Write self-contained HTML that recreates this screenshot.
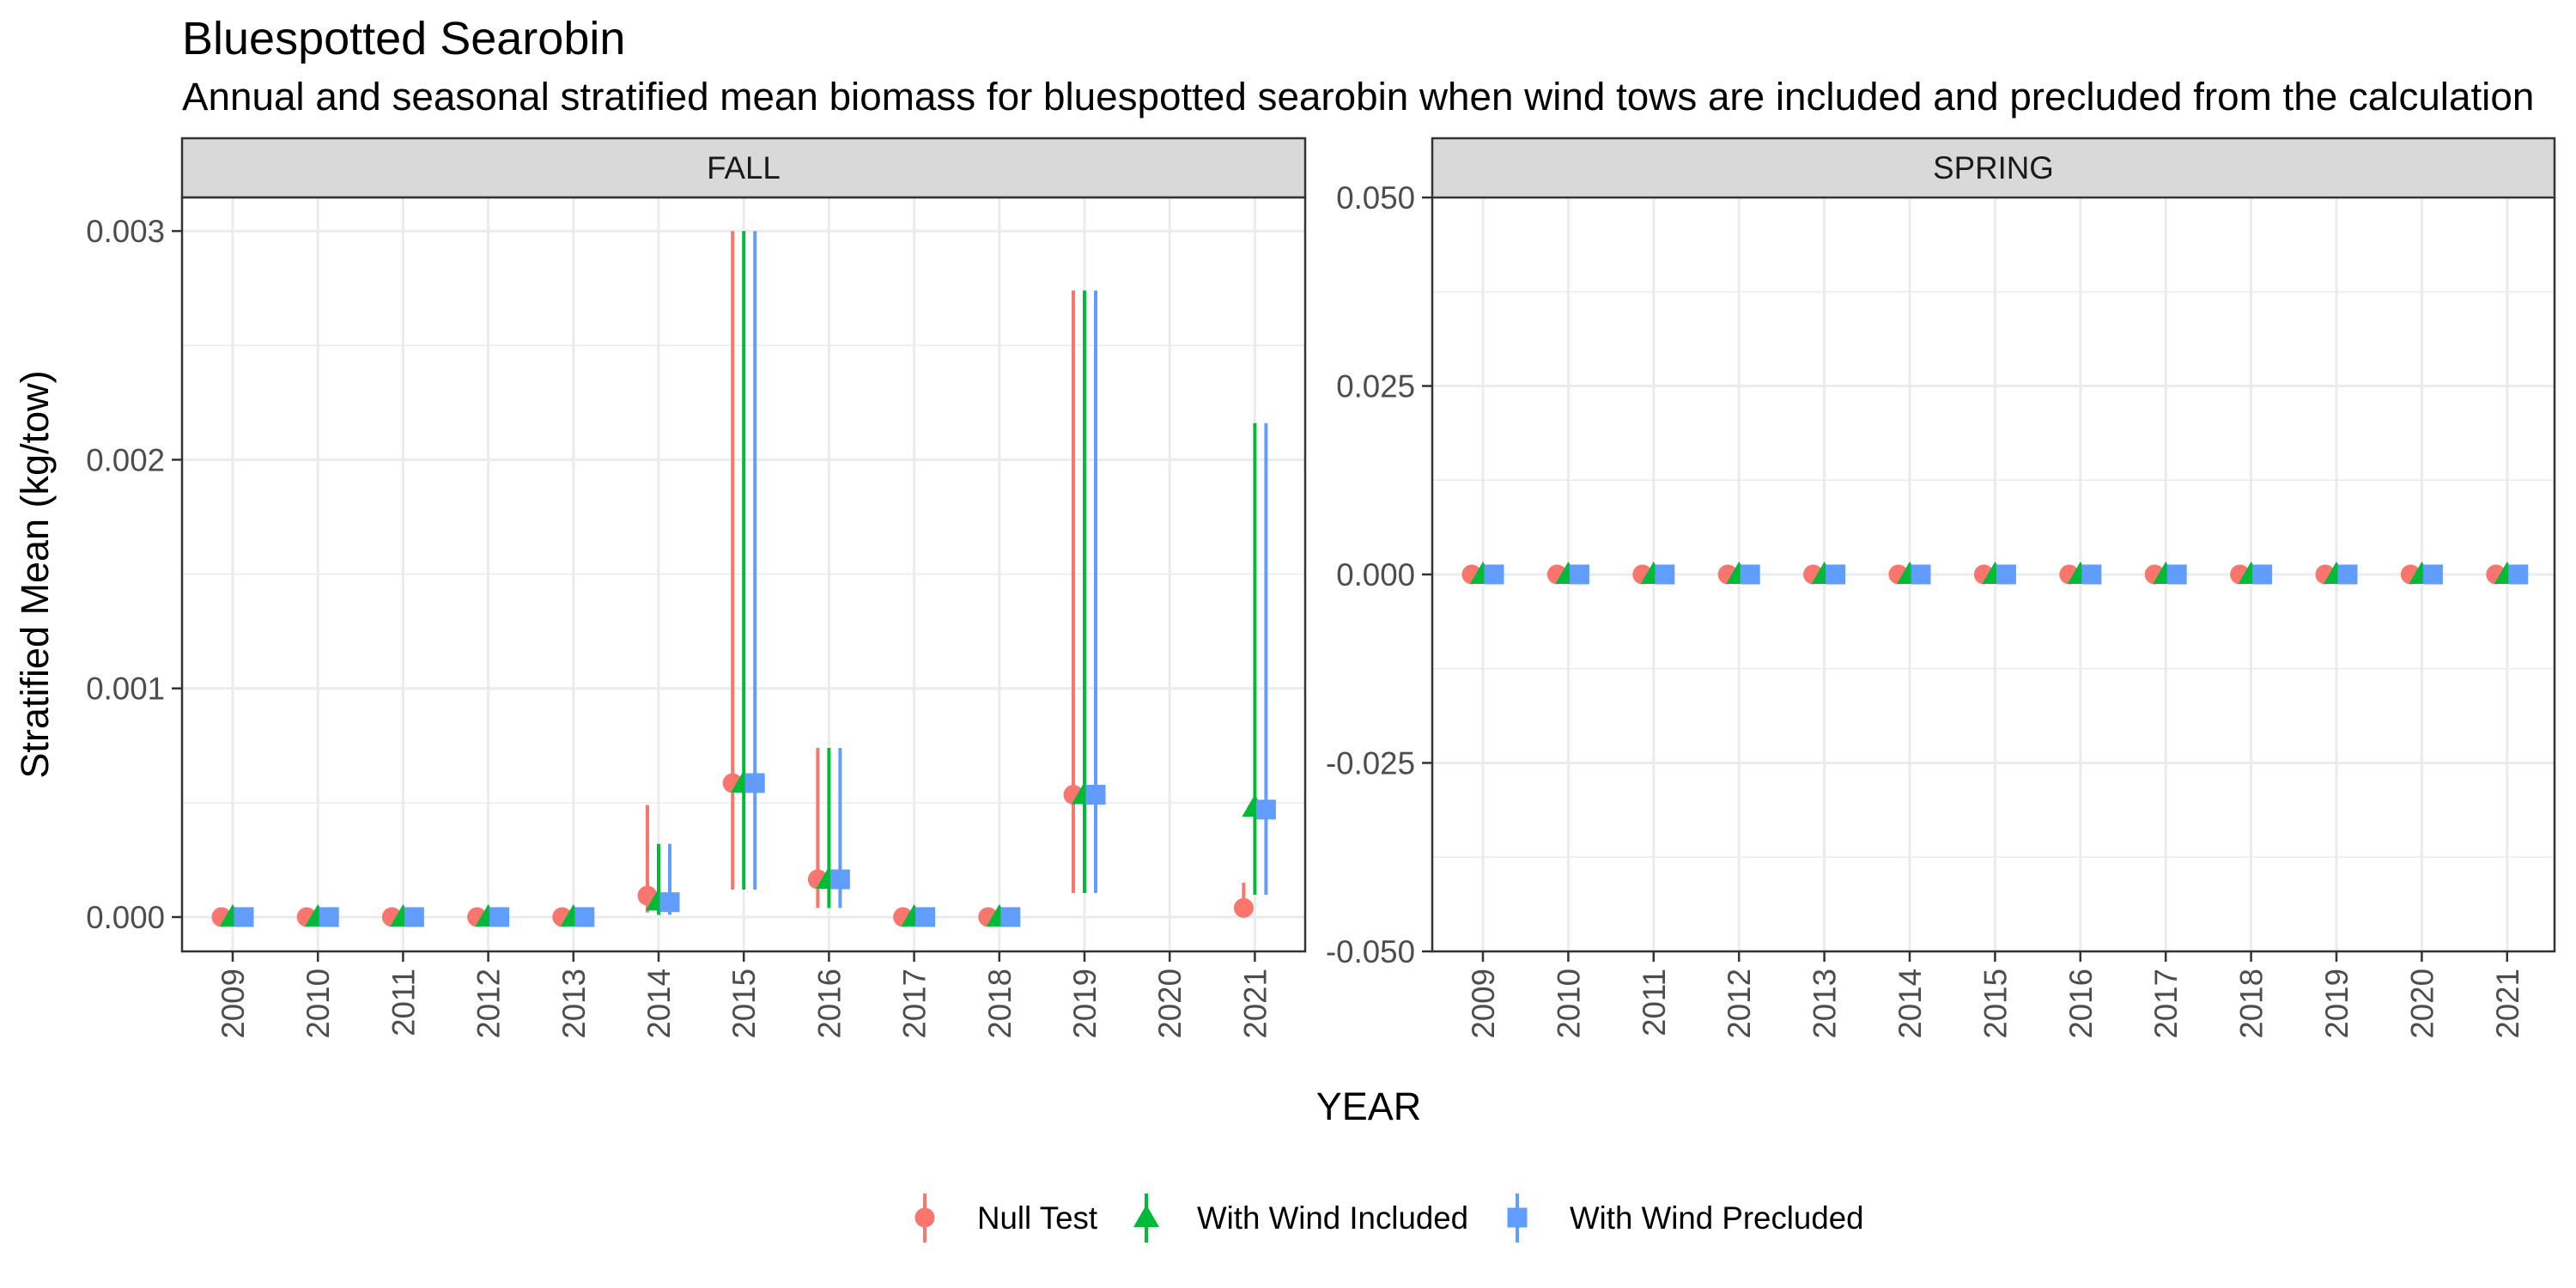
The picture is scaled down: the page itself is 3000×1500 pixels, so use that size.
<!DOCTYPE html>
<html><head><meta charset="utf-8">
<style>
html,body{margin:0;padding:0;background:#fff;}
svg{display:block;font-family:"Liberation Sans",Arial,sans-serif;}
</style></head>
<body>
<svg id="chart" width="3000" height="1500" viewBox="0 0 3000 1500" xmlns="http://www.w3.org/2000/svg">
<text x="212" y="63" font-size="54" fill="#000">Bluespotted Searobin</text>
<text x="212" y="128" font-size="45.8" fill="#000">Annual and seasonal stratified mean biomass for bluespotted searobin when wind tows are included and precluded from the calculation</text>
<text transform="translate(56,669) rotate(-90)" text-anchor="middle" font-size="45" fill="#000">Stratified Mean (kg/tow)</text>
<text x="1594" y="1304" text-anchor="middle" font-size="45" fill="#000">YEAR</text>
<g id="panels"></g>
<g id="legend"></g>
</svg>
<script>
const years = [2009,2010,2011,2012,2013,2014,2015,2016,2017,2018,2019,2020,2021];
const seriesNames = ["Null Test","With Wind Included","With Wind Precluded"];
// FALL
const fallYears = [2009,2010,2011,2012,2013,2014,2015,2016,2017,2018,2019,2021];
const fallNullMean = [0,0,0,0,0,0.000094,0.000586,0.000165,0,0,0.000535,0.00004];
const fallNullLo =   [0,0,0,0,0,0.00002,0.00012,0.00004,0,0,0.000105,0.00004];
const fallNullHi =   [0,0,0,0,0,0.00049,0.003,0.00074,0,0,0.00274,0.00015];
const fallInclMean = [0,0,0,0,0,0.00007,0.000586,0.000165,0,0,0.000535,0.00048];
const fallInclLo =   [0,0,0,0,0,0.00001,0.00012,0.00004,0,0,0.000105,0.0000976];
const fallInclHi =   [0,0,0,0,0,0.00032,0.003,0.00074,0,0,0.00274,0.00216];
const fallPrecMean = [0,0,0,0,0,0.000065,0.000586,0.000165,0,0,0.000535,0.00047];
const fallPrecLo =   [0,0,0,0,0,0.00001,0.00012,0.00004,0,0,0.000105,0.0000976];
const fallPrecHi =   [0,0,0,0,0,0.00032,0.003,0.00074,0,0,0.00274,0.00216];
// SPRING
const springYears = [2009,2010,2011,2012,2013,2014,2015,2016,2017,2018,2019,2020,2021];
const springNullMean = [0,0,0,0,0,0,0,0,0,0,0,0,0];
const springInclMean = [0,0,0,0,0,0,0,0,0,0,0,0,0];
const springPrecMean = [0,0,0,0,0,0,0,0,0,0,0,0,0];
const fallTicks = [0,0.001,0.002,0.003];
const fallTickLabels = ["0.000","0.001","0.002","0.003"];
const fallMinor = [0.0005,0.0015,0.0025];
const springTicks = [-0.05,-0.025,0,0.025,0.05];
const springTickLabels = ["-0.050","-0.025","0.000","0.025","0.050"];
const springMinor = [-0.0375,-0.0125,0.0125,0.0375];

const NS="http://www.w3.org/2000/svg";
const colors=["#F8766D","#00BA38","#619CFF"];
const dodge=[-13,0,13];
function mk(tag,attrs,parent){const e=document.createElementNS(NS,tag);for(const k in attrs)e.setAttribute(k,attrs[k]);parent.appendChild(e);return e;}
function shape(g,i,cx,cy,s){
  if(i===0) return mk("circle",{cx:cx,cy:cy,r:11.5*s,fill:colors[0]},g);
  if(i===1) return mk("polygon",{points:`${cx},${cy-15*s} ${cx+15*s},${cy+11*s} ${cx-15*s},${cy+11*s}`,fill:colors[1]},g);
  return mk("rect",{x:cx-11.5*s,y:cy-11.5*s,width:23*s,height:23*s,fill:colors[2]},g);
}
const root=document.getElementById("panels");
function panel(cfg){
  const g=mk("g",{},root);
  
  
  const L=cfg.L,R=cfg.R,T=230,B=1108;
  const x=yr=>cfg.x0+(yr-2009)*cfg.dx;
  const y=v=>cfg.y0+(v-cfg.v0)*cfg.ppu;
  const st=mk("rect",{x:L,y:161,width:R-L,height:69,fill:"#D9D9D9",stroke:"#333",["stroke-width"]:2.5},g);
  
  
  const stt=mk("text",{x:(L+R)/2,y:208,"text-anchor":"middle","font-size":36.7,fill:"#1A1A1A"},g);
  stt.textContent=cfg.label;
  
  
  mk("rect",{x:L,y:T,width:R-L,height:B-T,fill:"#fff"},g);
  cfg.minor.forEach(v=>{const l=mk("line",{x1:L,x2:R,y1:y(v),y2:y(v),stroke:"#EBEBEB","stroke-width":1.5},g);
    });
  cfg.ticks.forEach((v,i)=>{
    const l=mk("line",{x1:L,x2:R,y1:y(v),y2:y(v),stroke:"#EBEBEB","stroke-width":3},g);
    
    const tk=mk("line",{x1:L-12,x2:L,y1:y(v),y2:y(v),stroke:"#333","stroke-width":2.5},g);
    
    const t=mk("text",{x:L-20,y:y(v)+13,"text-anchor":"end","font-size":36.7,fill:"#4D4D4D"},g);
    t.textContent=cfg.tickLabels[i];
    
  });
  years.forEach(yr=>{
    const l=mk("line",{x1:x(yr),x2:x(yr),y1:T,y2:B,stroke:"#EBEBEB","stroke-width":3},g);
    
    const tk=mk("line",{x1:x(yr),x2:x(yr),y1:B,y2:B+12,stroke:"#333","stroke-width":2.5},g);
    
    const t=mk("text",{transform:`translate(${x(yr)+13},${B+20}) rotate(-90)`,"text-anchor":"end","font-size":36.7,fill:"#4D4D4D"},g);
    t.textContent=yr;
    
  });
  cfg.series.forEach((s,i)=>{
    s.yrs.forEach((yr,j)=>{
      const cx=x(yr)+dodge[i];
      if(s.lo && s.hi && s.hi[j]!==s.lo[j]){
        const e=mk("line",{x1:cx,x2:cx,y1:y(s.lo[j]),y2:y(s.hi[j]),stroke:colors[i],"stroke-width":4},g);
        
        
      }
      const p=shape(g,i,cx,y(s.mean[j]),1);
      
      
    });
  });
  const bd=mk("rect",{x:L,y:T,width:R-L,height:B-T,fill:"none",stroke:"#333","stroke-width":2.5},g);
  
  
}
panel({name:"fall",label:"FALL",L:212,R:1520,x0:271,dx:99.2,y0:1068,v0:0,ppu:-266300,
  ticks:fallTicks,tickLabels:fallTickLabels,minor:fallMinor,
  series:[{yrs:fallYears,mean:fallNullMean,lo:fallNullLo,hi:fallNullHi},
          {yrs:fallYears,mean:fallInclMean,lo:fallInclLo,hi:fallInclHi},
          {yrs:fallYears,mean:fallPrecMean,lo:fallPrecLo,hi:fallPrecHi}]});
panel({name:"spring",label:"SPRING",L:1668,R:2975,x0:1727,dx:99.4,y0:669,v0:0,ppu:-8780,
  ticks:springTicks,tickLabels:springTickLabels,minor:springMinor,
  series:[{yrs:springYears,mean:springNullMean},
          {yrs:springYears,mean:springInclMean},
          {yrs:springYears,mean:springPrecMean}]});
const lg=document.getElementById("legend");
const keyX=[1077,1335,1767], txtX=[1138,1394,1828];
seriesNames.forEach((n,i)=>{
  const g=mk("g",{},lg);
  
  
  mk("line",{x1:keyX[i],x2:keyX[i],y1:1390,y2:1447,stroke:colors[i],"stroke-width":4},g);
  shape(g,i,keyX[i],1418,1);
  const t=mk("text",{x:txtX[i],y:1431,"font-size":36.7,fill:"#000"},g);
  t.textContent=n;
});
</script>
</body></html>
